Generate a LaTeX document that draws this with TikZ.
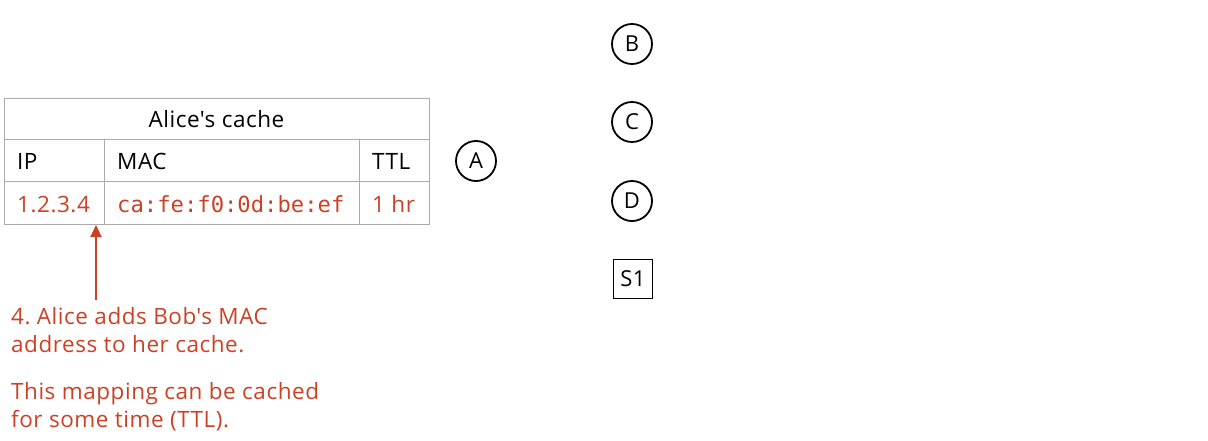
\documentclass[tikz,border=0pt]{standalone}
\usepackage{fontspec}
\setmainfont[LetterSpace=2.4]{Open Sans}
\setmonofont{DejaVu Sans Mono}
\usetikzlibrary{arrows.meta}
\definecolor{redc}{HTML}{CC4125}
\definecolor{gridc}{HTML}{ABABAB}
\frenchspacing
\begin{document}
\begin{tikzpicture}[x=1pt,y=-1pt,
  txt/.style={font=\fontsize{22.5}{27}\selectfont, inner sep=0pt, anchor=base west},
  rtxt/.style={txt, text=redc},
  mtxt/.style={rtxt, font=\fontsize{22.2}{25}\ttfamily},
  host/.style={draw=black, line width=1.8pt, circle, minimum size=40pt, inner sep=0pt, font=\fontsize{22}{25}\selectfont},
  sw/.style={draw=black, line width=1.8pt, rectangle, minimum size=39pt, inner sep=0pt, font=\fontsize{22}{25}\selectfont},
  grid/.style={draw=gridc, line width=1pt}
]
\useasboundingbox (0,0) rectangle (1208,441);
% table
\draw[grid] (4,99) rectangle (429,224);
\draw[grid] (4,140) -- (429,140);
\draw[grid] (4,182) -- (429,182);
\draw[grid] (104,140) -- (104,224);
\draw[grid] (359,140) -- (359,224);
\node[txt, anchor=base] (title) at (216.5,128) {Alice\textquotesingle s cache};
\node[txt] (hip) at (17,170) {IP};
\node[txt] (hmac) at (117,170) {MAC};
\node[txt] (httl) at (372,170) {TTL};
\node[rtxt] (vip) at (17,212) {1.2.3.4};
\node[mtxt] (vmac) at (117,212) {ca:fe:f0:0d:be:ef};
\node[rtxt] (vttl) at (372,212) {1 hr};
\coordinate (tip) at (96,225);
% hosts
\node[host] (A) at (476,161) {A};
\node[host] (B) at (632,44) {B};
\node[host] (C) at (632,122) {C};
\node[host] (D) at (632,201) {D};
\node[sw] (S1) at (633,279) {S1};
% annotation
\node[rtxt] (n1) at (11,324) {4. Alice adds Bob\textquotesingle s MAC};
\node[rtxt] (n2) at (11,352) {address to her cache.};
\node[rtxt] (n3) at (11,399) {This mapping can be cached};
\node[rtxt] (n4) at (11,427) {for some time (TTL).};
\coordinate (tail) at (96,300);
\draw[redc, line width=2pt, -{Triangle[length=12pt,width=11pt]}] (tail) -- (tip);
\end{tikzpicture}
\end{document}
